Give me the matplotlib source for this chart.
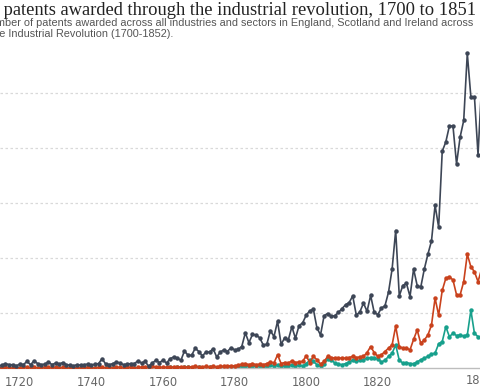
import matplotlib
matplotlib.use("Agg")
import matplotlib.pyplot as plt
import matplotlib.transforms as mtransforms

# ---- data ----
years = list(range(1700, 1852))

england_total = [
    2, 3, 2, 2, 2, 3, 2, 2, 2, 2,
    2, 4, 6, 4, 4, 5, 8, 6, 6, 4,
    7, 6, 12, 6, 13, 8, 6, 7, 11, 6,
    9, 7, 10, 6, 5, 4, 6, 5, 6, 7,
    5, 7, 8, 17, 7, 6, 8, 11, 9, 6,
    7, 8, 8, 13, 9, 12, 3, 9, 14, 10,
    14, 9, 17, 20, 18, 14, 31, 23, 23, 36,
    30, 22, 29, 29, 35, 20, 29, 33, 30, 37,
    33, 34, 39, 64, 46, 61, 60, 55, 42, 43,
    68, 57, 85, 43, 55, 51, 75, 54, 77, 82,
    96, 104, 107, 73, 60, 95, 99, 94, 95, 101,
    108, 115, 119, 131, 96, 102, 118, 103, 132, 101,
    97, 109, 113, 138, 180, 250, 131, 150, 154, 130,
    180, 150, 147, 180, 207, 231, 296, 256, 394, 411,
    440, 440, 371, 420, 450, 572, 493, 493, 388, 514,
    523, 455,
]

series_red = [
    0, 0, 0, 0, 0, 0, 0, 0, 0, 0,
    0, 0, 1, 0, 0, 0, 1, 0, 0, 0,
    0, 1, 1, 0, 1, 0, 0, 1, 1, 0,
    1, 0, 1, 0, 0, 0, 0, 0, 0, 1,
    0, 0, 1, 1, 0, 1, 0, 1, 1, 0,
    1, 1, 0, 1, 1, 1, 1, 3, 1, 1,
    1, 1, 2, 1, 2, 2, 2, 2, 2, 3,
    2, 2, 3, 2, 3, 2, 3, 3, 4, 4,
    4, 5, 7, 8, 6, 8, 6, 7, 6, 8,
    11, 9, 24, 8, 10, 9, 13, 10, 11, 12,
    22, 10, 21, 15, 7, 12, 21, 19, 18, 18,
    18, 18, 19, 21, 19, 20, 21, 28, 39, 28,
    21, 24, 30, 36, 42, 76, 39, 36, 36, 33,
    52, 69, 45, 51, 60, 78, 127, 96, 141, 163,
    166, 160, 133, 133, 157, 207, 184, 175, 157, 180,
    190, 170,
]

series_teal = [
    0, 0, 0, 0, 0, 0, 0, 0, 0, 0,
    0, 0, 0, 0, 0, 0, 0, 0, 0, 0,
    0, 0, 0, 0, 0, 0, 0, 0, 0, 0,
    0, 0, 0, 0, 0, 0, 0, 0, 0, 0,
    0, 0, 0, 0, 0, 0, 0, 0, 0, 0,
    0, 0, 0, 0, 0, 0, 0, 0, 0, 0,
    0, 0, 1, 0, 1, 0, 1, 1, 0, 1,
    1, 0, 1, 1, 1, 0, 1, 1, 1, 2,
    2, 2, 3, 4, 3, 4, 3, 3, 2, 3,
    5, 4, 6, 3, 4, 4, 6, 4, 5, 4,
    8, 14, 12, 6, 3, 8, 16, 15, 9, 7,
    6, 8, 11, 14, 12, 14, 15, 18, 19, 19,
    16, 11, 14, 21, 27, 42, 14, 9, 10, 8,
    8, 11, 15, 18, 21, 25, 27, 44, 48, 75,
    57, 63, 59, 60, 58, 60, 105, 63, 57, 55,
    60, 58,
]

x_ticks = [1720, 1740, 1760, 1780, 1800, 1820]
end_year = 1851
y_grid = [100, 200, 300, 400, 500]

title = "Number of patents awarded through the industrial revolution, 1700 to 1851"
sub1 = ("Number of patents awarded across all industries and sectors in England, "
        "Scotland and Ireland across")
sub2 = "the Industrial Revolution (1700-1852)."

W, H = 480, 388
fig = plt.figure(figsize=(W / 100, H / 100), dpi=100)

# axes: baseline at y=368px, years 1714.5..1848.5 across the full width
ax = fig.add_axes([0, (H - 368) / H, 1, 368 / H])
ax.patch.set_alpha(0)
ax.set_xlim(1714.47, 1848.55)
ax.set_ylim(0, 368 / 0.55)

for g in y_grid:
    ax.axhline(g, color="#d9d9d9", lw=0.9, ls=(0, (2, 2)), zorder=0)

kw = dict(lw=1.2, marker="o", ms=2.2, clip_on=True)
ax.plot(years, series_teal, color="#17a08c", zorder=2, **kw)
ax.plot(years, series_red, color="#c9421d", zorder=3, **kw)
ax.plot(years, england_total, color="#3d4656", zorder=4, **kw)

for s in ["left", "right", "top"]:
    ax.spines[s].set_visible(False)
ax.spines["bottom"].set_color("#bdbdbd")
ax.spines["bottom"].set_linewidth(1)
ax.set_yticks([])
ax.set_xticks(x_ticks)
ax.set_xticklabels([str(t) for t in x_ticks])
ax.tick_params(axis="x", length=0, pad=6, labelsize=8.3, labelcolor="#666666")

# end-year label, pulled left a little (clamped to the chart bounds)
end_tr = mtransforms.offset_copy(ax.get_xaxis_transform(), fig=fig,
                                 x=-8, y=-6, units="dots")
ax.text(end_year, 0, str(end_year), transform=end_tr,
        ha="center", va="top", fontsize=8.3, color="#666666", clip_on=False)

# header text
fig.text(476 / W, 1 - 15 / H, title, ha="right", va="baseline",
         fontsize=13.3, family="Liberation Serif", color="#222222")
fig.text(473 / W, 1 - 26 / H, sub1, ha="right", va="baseline",
         fontsize=7.8, family="Liberation Sans", color="#555555")
fig.text(-10 / W, 1 - 37 / H, sub2, ha="left", va="baseline",
         fontsize=7.8, family="Liberation Sans", color="#555555")

fig.savefig("out.png", dpi=100)
